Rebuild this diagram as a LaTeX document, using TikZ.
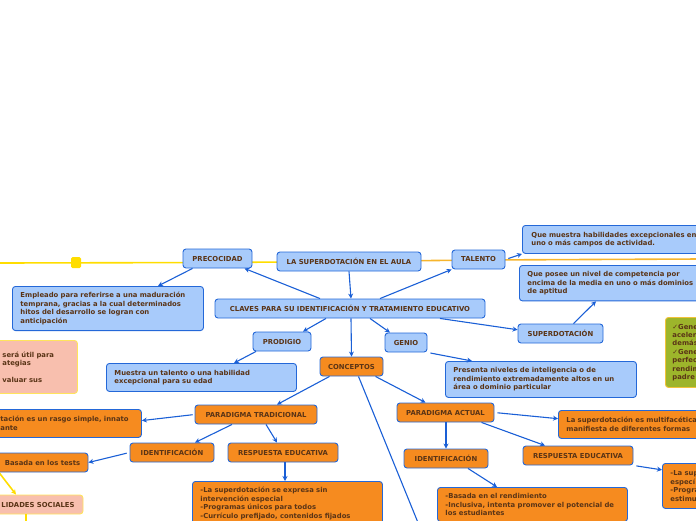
\documentclass[tikz,border=0pt]{standalone}
\usepackage{fontspec}
\setmainfont{DejaVu Sans}
\usetikzlibrary{arrows.meta,calc}
\definecolor{txtbrown}{HTML}{5A3416}
\definecolor{boxline}{HTML}{2468D8}
\definecolor{blufill}{HTML}{A8CBFB}
\definecolor{orafill}{HTML}{F68B1F}
\definecolor{pinkfill}{HTML}{F8BFAE}
\definecolor{pinkline}{HTML}{FFE45C}
\definecolor{grnfill}{HTML}{9DB52B}
\definecolor{grnline}{HTML}{F2C23A}
\definecolor{connblue}{HTML}{1A5FD6}
\definecolor{ylw}{HTML}{FFDD00}
\definecolor{ylworange}{HTML}{F7B52C}
\tikzset{
  box/.style={draw=boxline, line width=0.9pt, rounded corners=3pt, text=txtbrown,
    font=\fontsize{6.85}{8.4}\selectfont\bfseries, inner sep=0pt, minimum height=19pt},
  blubox/.style={box, fill=blufill},
  orabox/.style={box, fill=orafill},
  pinkbox/.style={box, fill=pinkfill, draw=pinkline},
  grnbox/.style={box, fill=grnfill, draw=grnline},
  textbox/.style={anchor=north west, align=left, inner xsep=8pt, inner ysep=6pt},
  conn/.style={draw=connblue, line width=1.1pt, -{Stealth[length=5pt,width=5pt]}},
  yline/.style={draw=ylw, line width=1.6pt},
}
\begin{document}
\begin{tikzpicture}[x=1pt,y=1pt,yscale=-1]
\useasboundingbox (0,0) rectangle (696,520);

% main yellow branch line
\draw[yline] (0,263) -- (217,262.5) -- (349,261.5);
\draw[yline,draw=ylworange] (349,261.5) -- (478,260) -- (700,259);
\fill[ylw,rounded corners=1.5pt] (71,257) rectangle (81,268);

% top level
\node[blubox,minimum width=69pt] (precoc) at (217.5,258.5) {PRECOCIDAD};
\node[blubox,minimum width=144pt] (aula) at (349,261.5) {LA SUPERDOTACIÓN EN EL AULA};
\node[blubox,minimum width=53pt] (talento) at (478.5,259.5) {TALENTO};
\node[blubox,minimum width=270pt] (claves) at (350,308.5) {CLAVES PARA SU IDENTIFICACIÓN Y TRATAMIENTO EDUCATIVO};

% definitions
\node[blubox,textbox,text width=175pt,minimum height=44pt] (empleado) at (12,286)
  {Empleado para referirse a una maduración\\temprana, gracias a la cual determinados\\hitos del desarrollo se logran con\\anticipación};
\node[blubox,textbox,inner xsep=9pt,text width=184pt,minimum height=28pt] (muestraT) at (522,225)
  {Que muestra habilidades excepcionales en\\uno o más campos de actividad.};
\node[blubox,textbox,text width=192pt,minimum height=35pt] (posee) at (519,265)
  {Que posee un nivel de competencia por\\encima de la media en uno o más dominios\\de aptitud};
\node[blubox,minimum width=85pt] (superdot) at (560.5,333.5) {SUPERDOTACIÓN};
\node[grnbox,textbox,inner xsep=7pt,text width=60pt,minimum height=70pt] (grn) at (665,317)
  {✓Gene\\aceler\\demás\\✓Gene\\perfec\\rendim\\padre};
\node[pinkbox,textbox,text width=67pt,minimum height=53pt] (pinkA) at (-6,340)
  {será útil para\\ategias\\\mbox{}\\valuar sus};

\node[blubox,minimum width=58pt] (prodigio) at (282,341.5) {PRODIGIO};
\node[blubox,minimum width=42pt] (genio) at (406,342.5) {GENIO};
\node[orabox,minimum width=63pt] (conceptos) at (351.5,366.5) {CONCEPTOS};
\node[blubox,textbox,text width=174pt,minimum height=28pt] (muestraP) at (106,363)
  {Muestra un talento o una habilidad\\excepcional para su edad};
\node[blubox,textbox,text width=175pt,minimum height=36pt] (presenta) at (445,361)
  {Presenta niveles de inteligencia o de\\rendimiento extremadamente altos en un\\área o dominio particular};

% paradigma tradicional
\node[orabox,minimum width=122pt] (ptrad) at (256,414.5) {PARADIGMA TRADICIONAL};
\node[orabox,textbox,text width=133pt,minimum height=28pt] (rasgo) at (-8,409)
  {tación es un rasgo simple, innato\\ante};
\node[orabox,minimum width=84pt] (identA) at (172,452.5) {IDENTIFICACIÓN};
\node[orabox,minimum width=110pt] (respA) at (283,452.5) {RESPUESTA EDUCATIVA};
\node[orabox,minimum width=91pt] (basadaA) at (42.5,462.5) {Basada en los tests};
\node[pinkbox,minimum width=90pt] (social) at (38,504.5) {LIDADES SOCIALES};
\node[orabox,textbox,text width=174pt] (respdescA) at (192,481)
  {-La superdotación se expresa sin\\intervención especial\\-Programas únicos para todos\\-Currículo prefijado, contenidos fijados};

% paradigma actual
\node[orabox,minimum width=97pt] (pact) at (445.5,412.5) {PARADIGMA ACTUAL};
\node[orabox,textbox,text width=150pt,minimum height=28pt] (multi) at (558,410)
  {La superdotación es multifacética\\manifiesta de diferentes formas};
\node[orabox,minimum width=84pt] (identB) at (446,458.5) {IDENTIFICACIÓN};
\node[orabox,minimum width=110pt] (respB) at (578,455.5) {RESPUESTA EDUCATIVA};
\node[orabox,textbox,text width=174pt] (basadaB) at (437,487)
  {-Basada en el rendimiento\\-Inclusiva, intenta promover el potencial de\\los estudiantes};
\node[orabox,textbox,text width=60pt,minimum height=45pt] (respdescB) at (662,463)
  {-La sup\\especí\\-Progra\\estimu};

\coordinate (cdown) at (421,530);
\coordinate (yl) at (-1,472.5);

% connectors
\draw[conn] ([xshift=-30pt]claves.north) -- ([xshift=27pt]precoc.south);
\draw[conn] (aula.south) -- ([xshift=1pt]claves.north);
\draw[conn] ([xshift=30pt]claves.north) -- (talento.south west);
\draw[conn] ([xshift=-25pt]precoc.south) -- ([xshift=146pt]empleado.north west);
\draw[conn,shorten <=3pt] (talento.east) -- (muestraT.south west);
\draw[conn] ([xshift=90pt]claves.south) -- (superdot.175);
\draw[conn] ([xshift=13pt]superdot.north) -- ([xshift=77pt]posee.south west);
\draw[conn] ([xshift=-24pt]claves.south) -- ([xshift=21pt]prodigio.north);
\draw[conn] ([xshift=1pt]claves.south) -- (conceptos.north);
\draw[conn] ([xshift=20pt]claves.south) -- ([xshift=-16pt]genio.north);
\draw[conn] ([xshift=-26pt]prodigio.south) -- ([xshift=128pt]muestraP.north west);
\draw[conn,shorten <=3pt] (genio.south east) -- ([xshift=27pt]presenta.north west);
\draw[conn] ([xshift=-22pt]conceptos.south) -- ([xshift=21pt]ptrad.north);
\draw[conn] ([xshift=7pt]conceptos.south) -- (cdown);
\draw[conn] ([xshift=24pt]conceptos.south) -- ([xshift=-20pt]pact.north);
\draw[conn,shorten <=2pt] (ptrad.west) -- ($(rasgo.north east)!0.4!(rasgo.south east)$);
\draw[conn] ([xshift=-24pt]ptrad.south) -- ([xshift=23pt]identA.north);
\draw[conn] ([xshift=10pt]ptrad.south) -- ([xshift=-6pt]respA.north);
\draw[conn,shorten <=3pt] (identA.west) -- (basadaA.east);
\draw[conn] ([xshift=2pt]respA.south) -- ([xshift=93pt]respdescA.north west);
\draw[conn,shorten <=3pt] (pact.east) -- ($(multi.north west)!0.3!(multi.south west)$);
\draw[conn] ([xshift=0.5pt]pact.south) -- (identB.north);
\draw[conn] ([xshift=36pt]pact.south) -- ([xshift=-33pt]respB.north);
\draw[conn] ([xshift=22pt]identB.south) -- ([xshift=60pt]basadaB.north west);
\draw[conn,shorten <=3pt] (respB.south east) -- ($(respdescB.north west)!0.15!(respdescB.south west)$);

% yellow branch below tests
\draw[yline,-{Stealth[length=5pt,width=5pt]}] (yl) -- ([xshift=-22pt]social.north);
\draw[yline] ([xshift=-12pt]social.south) -- ++(0,10);
\end{tikzpicture}
\end{document}
